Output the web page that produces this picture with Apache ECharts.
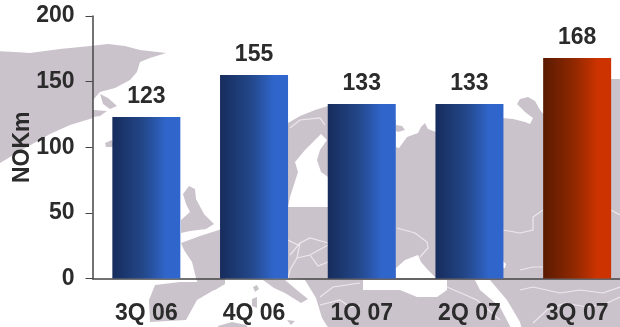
<!DOCTYPE html>
<html>
<head>
<meta charset="utf-8">
<style>
  html, body { margin: 0; padding: 0; background: #fff; }
  #chart { width: 620px; height: 327px; }
</style>
<script src="https://cdn.jsdelivr.net/npm/echarts@6/dist/echarts.min.js"></script>
</head>
<body>
<div id="chart"></div>
<script>
// Quarterly figures in NOK million
const categories = ['3Q 06', '4Q 06', '1Q 07', '2Q 07', '3Q 07'];
const values = [123, 155, 133, 133, 168];
const latestQuarter = 4;

const inkColor = '#2b2b2b';
const axisColor = '#444444';
const landColor = '#cbc3cb';
const borderColor = '#ece8ec';

// Decorative map of Europe behind the plot, in page pixels
const landShapes = [
  [[-5,51],[15,52],[30,53],[60,49],[90,46],[108,44],[125,46],[140,50],[166,53],[150,58],[140,62],[137,72],[130,80],[115,88],[100,92],[93,100],[93,118],[70,125],[50,134],[36,142],[20,151],[-5,166]],
  [[100,94],[108,98],[117,106],[110,109],[103,104]],
  [[93,110],[107,111],[100,116],[93,117]],
  [[105,143],[112,140],[114,147],[106,147]],
  [[183,194],[189,186],[195,189],[196,199],[204,214],[214,224],[206,229],[190,231],[181,233],[181,220],[190,212],[186,204]],
  [[181,243],[200,236],[225,228],[225,284],[215,290],[200,290],[196,278],[192,262],[184,250]],
  [[155,285],[180,282],[200,282],[220,280],[214,290],[197,300],[186,320],[150,322],[149,300]],
  [[218,326],[232,322],[246,325],[250,330],[218,330]],
  [[263,280],[285,280],[298,291],[308,299],[301,303],[293,298],[285,293],[274,288]],
  [[253,287],[257,285],[259,289],[255,292]],
  [[252,299],[257,297],[257,308],[252,306]],
  [[287,320],[295,321],[291,325]],
  [[396,125],[402,126],[405,130],[398,132],[396,131]],
  [[288,123],[300,116],[315,110],[328,106],[396,120],[396,147],[399,148],[407,137],[418,133],[421,127],[425,123],[428,129],[436,132],[503,118],[513,119],[525,122],[530,124],[533,118],[525,112],[517,104],[520,99],[528,97],[535,101],[540,110],[545,116],[560,90],[611,79],[625,79],[625,332],[331,332],[322,318],[316,298],[305,280],[288,278]]
];

const waterShapes = [
  [[321,134],[327,140],[320,150],[317,160],[321,172],[328,177],[328,207],[288,207],[290,197],[298,172],[295,162],[305,150],[315,140]],
  [[396,268],[405,260],[418,255],[421,262],[428,270],[436,278],[396,278]],
  [[363,280],[447,280],[447,290],[437,297],[417,297],[400,290],[363,290]],
  [[475,280],[490,280],[507,300],[520,322],[522,330],[512,330],[500,307],[480,290]],
  [[503,261],[506,264],[505,268],[503,268]]
];

const borderLines = [
  [[290,128],[300,120],[320,118],[325,125]],
  [[397,228],[415,233],[427,242],[428,248],[420,257]],
  [[503,230],[520,233],[533,230],[533,217],[543,210]],
  [[611,210],[620,215]],
  [[520,270],[533,267],[543,267]],
  [[290,255],[300,243],[310,238],[328,243]],
  [[288,240],[298,245],[300,243]],
  [[300,243],[297,258],[290,270],[288,278]],
  [[297,258],[310,255],[328,245]],
  [[310,255],[318,266],[328,262]],
  [[320,297],[333,287],[360,283]],
  [[320,305],[340,300],[350,307],[360,305]],
  [[447,287],[477,300],[500,320]],
  [[520,290],[533,287],[560,293],[580,290],[603,293],[620,287]],
  [[533,323],[547,310],[565,303],[587,307],[607,303],[620,297]]
];

const toPolygon = (points, fill) => ({
  type: 'polygon', z: -10, silent: true,
  shape: { points }, style: { fill }
});
const toLine = (points) => ({
  type: 'polyline', z: -9, silent: true,
  shape: { points }, style: { stroke: borderColor, lineWidth: 1.2, fill: null }
});

// Left-to-right shading on each bar
const barFill = (dark, mid, light) => ({
  type: 'linear', x: 0, y: 0, x2: 1, y2: 0,
  colorStops: [
    { offset: 0, color: dark },
    { offset: 0.45, color: mid },
    { offset: 0.8, color: light },
    { offset: 1, color: light }
  ]
});
const blueFill = barFill('#162c5c', '#234789', '#3066cc');
const redFill = barFill('#5a1a00', '#8f2800', '#cc3300');

const chart = echarts.init(document.getElementById('chart'), null, { renderer: 'canvas' });
const baseFont = { fontFamily: '"Liberation Sans", Arial, sans-serif', fontWeight: 'bold', color: inkColor };

chart.setOption({
  animation: false,
  backgroundColor: '#ffffff',
  grid: { left: 92.5, right: -11, top: 16, height: 262.5, containLabel: false, outerBoundsMode: 'none' },
  graphic: [
    ...landShapes.map(p => toPolygon(p, landColor)),
    ...waterShapes.map(p => toPolygon(p, '#ffffff')),
    ...borderLines.map(toLine)
  ],
  xAxis: {
    type: 'category',
    data: categories,
    axisLine: { lineStyle: { color: axisColor, width: 1.5 } },
    axisTick: { length: 7, alignWithLabel: false, lineStyle: { color: axisColor, width: 1 } },
    axisLabel: { ...baseFont, fontSize: 23, margin: 24, interval: 0 }
  },
  yAxis: {
    type: 'value',
    min: 0,
    max: 200,
    interval: 50,
    name: 'NOKm',
    nameLocation: 'middle',
    nameGap: 58,
    nameRotate: 90,
    nameMoveOverlap: false,
    nameTextStyle: { ...baseFont, fontSize: 23 },
    splitLine: { show: false },
    axisLine: { show: true, lineStyle: { color: axisColor, width: 1.5 } },
    axisTick: { show: true, length: 7, lineStyle: { color: axisColor, width: 1 } },
    axisLabel: { ...baseFont, fontSize: 23, margin: 18 }
  },
  series: [{
    type: 'bar',
    data: values,
    barWidth: 68,
    itemStyle: {
      color: (p) => (p.dataIndex === latestQuarter ? redFill : blueFill)
    },
    label: { show: true, position: 'top', distance: 9, ...baseFont, fontSize: 23 }
  }]
});
</script>
</body>
</html>
